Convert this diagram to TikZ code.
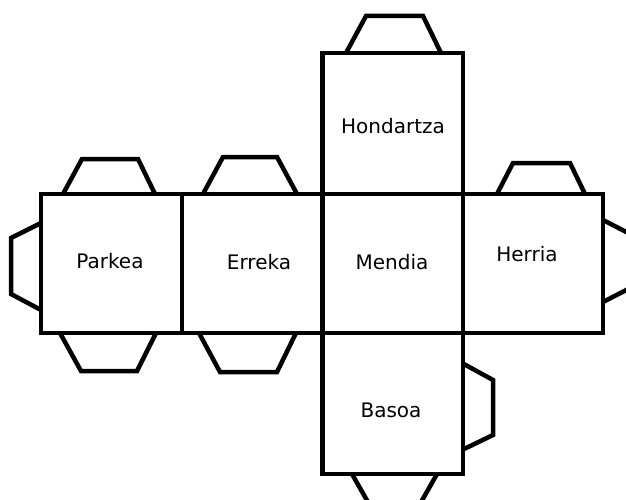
\documentclass[tikz,border=0pt]{standalone}
\usepackage{fontspec}
\setmainfont{DejaVu Sans}
\begin{document}
\begin{tikzpicture}[x=1pt,y=-1pt,
  face/.style={draw=black, line width=4.5pt, rectangle, inner sep=0pt, fill=none},
  tab/.style={draw=black, line width=4.5pt, line join=miter},
  lbl/.style={font=\fontsize{20}{24}\selectfont, text=black, anchor=base, inner sep=0pt}]
\useasboundingbox (0,0) rectangle (626,500);
\clip (0,0) rectangle (626,500);
% tabs
\draw[tab] (63,194) -- (82,159) -- (138,159) -- (155,194);
\draw[tab] (203,194) -- (223,157) -- (277,157) -- (297,194);
\draw[tab] (346,53) -- (366,16) -- (423,16) -- (441,53);
\draw[tab] (497,194) -- (513,163) -- (570,163) -- (585,194);
\draw[tab] (41,223) -- (11,238) -- (11,294) -- (41,310);
\draw[tab] (603,220) -- (634,236) -- (634,286) -- (603,302);
\draw[tab] (462,363) -- (493,380) -- (493,435) -- (462,450);
\draw[tab] (60,333) -- (81,371) -- (137,371) -- (156,333);
\draw[tab] (199,333) -- (220,372) -- (277,372) -- (296,333);
\draw[tab] (352,474) -- (373,511) -- (416,511) -- (437,474);
% faces
\node[face, minimum width=141pt, minimum height=139pt] (parkea) at (111.5,263.5) {};
\node[face, minimum width=140pt, minimum height=139pt] (erreka) at (252,263.5) {};
\node[face, minimum width=140.5pt, minimum height=139pt] (mendia) at (392.5,263.5) {};
\node[face, minimum width=140pt, minimum height=139pt] (herria) at (533,263.5) {};
\node[face, minimum width=140.5pt, minimum height=141pt] (hondartza) at (392.5,123.5) {};
\node[face, minimum width=140.5pt, minimum height=141pt] (basoa) at (392.5,403.5) {};
% labels
\node[lbl] (tparkea) at (110,268) {Parkea};
\node[lbl] (terreka) at (259,269) {Erreka};
\node[lbl] (tmendia) at (392,269) {Mendia};
\node[lbl] (thondartza) at (393,133) {Hondartza};
\node[lbl] (therria) at (527,261) {Herria};
\node[lbl] (tbasoa) at (391,417) {Basoa};
\end{tikzpicture}
\end{document}
